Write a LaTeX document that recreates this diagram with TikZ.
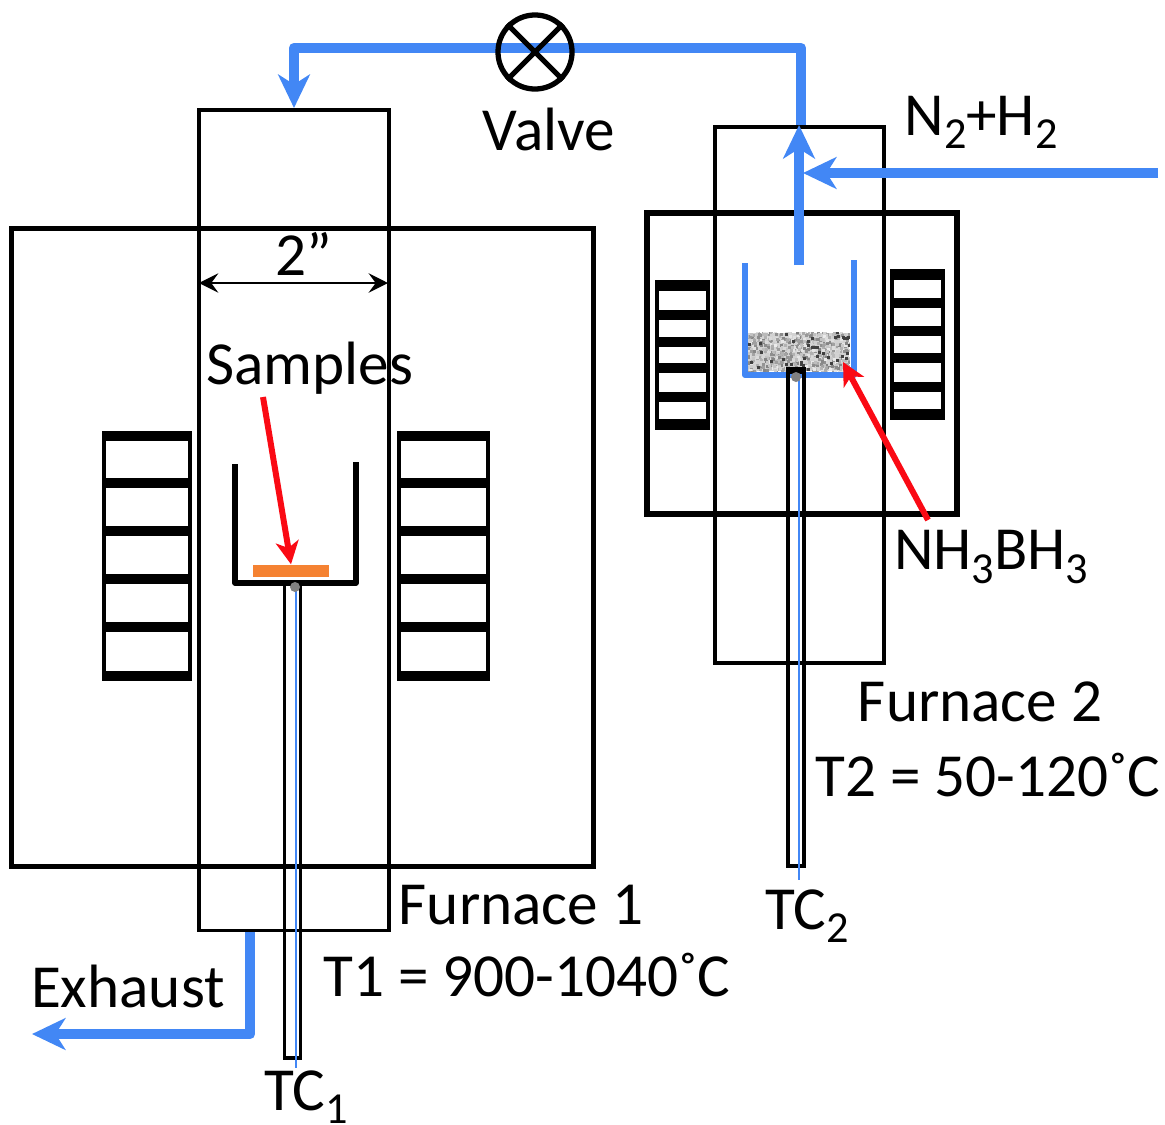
\documentclass[tikz,border=0pt]{standalone}
\usepackage{fontspec}
\setmainfont{Carlito}
\usepackage{xcolor}
\usetikzlibrary{arrows.meta,positioning}
\definecolor{azulgas}{RGB}{66,135,245}
\definecolor{naranja}{RGB}{245,130,50}
\definecolor{rojo}{RGB}{250,10,20}
\newcommand{\lowsub}[1]{\raisebox{-0.45ex}{\fontsize{12.6}{13}\selectfont #1}}

\begin{document}
\begin{tikzpicture}[
  x=0.01cm,y=-0.01cm,
  node distance=0.1cm and 0.1cm,
  wall/.style={draw,line width=1.5pt,inner sep=0pt},
  tube/.style={draw,line width=1pt,inner sep=0pt},
  heater/.style={draw,line width=1pt,inner sep=0pt},
  bar/.style={line width=2.6pt},
  gas/.style={azulgas,line width=3pt,line join=round},
  gastip/.style={gas,-{Stealth[length=9.5pt,width=9pt,inset=2.8pt]}},
  ptr/.style={rojo,line width=1.7pt,-{Stealth[length=6.5pt,width=6.5pt,inset=1.8pt]}},
  lbl/.style={font=\fontsize{17.4}{21}\selectfont,inner sep=0pt}
]
\useasboundingbox (0,0) rectangle (1165,1124);
% furnace 1
\node[tube,minimum width=1.9cm,minimum height=8.2cm] (tube1) at (294,520) {};
\node[wall,minimum width=5.81cm,minimum height=6.37cm] (furn1) at (302.5,547.5) {};
\node[heater,minimum width=0.86cm,minimum height=2.44cm] (hl1) at (147,556) {};
\node[heater,minimum width=0.89cm,minimum height=2.44cm] (hr1) at (443.5,556) {};
\foreach \y in {436,483,531,579,627,676} {
  \draw[bar] (hl1.west |- 0,\y) -- (hl1.east |- 0,\y);
  \draw[bar] (hr1.west |- 0,\y) -- (hr1.east |- 0,\y);
}
\draw[line width=1.5pt,line join=round] (235,464) -- (235,583) -- (356,583) -- (356,462);
\node[fill=naranja,inner sep=0pt,minimum width=0.76cm,minimum height=0.12cm] (sample1) at (291,571) {};
\node[tube,minimum width=0.16cm,minimum height=4.75cm] (tc1) at (292.5,820.5) {};
\coordinate (tc1top) at (296,590);
\coordinate (tc1end) at (296,1068);
\draw[azulgas,line width=0.5pt] (tc1top) -- (tc1end);
\node[fill=gray,circle,inner sep=0pt,minimum size=0.1cm] (dot1) at (295,587) {};

% furnace 2
\node[tube,minimum width=1.69cm,minimum height=5.36cm] (tube2) at (799.5,395) {};
\node[wall,minimum width=3.10cm,minimum height=3.01cm] (furn2) at (802,363.5) {};
\node[heater,minimum width=0.51cm,minimum height=1.46cm] (hl2) at (682.5,355) {};
\node[heater,minimum width=0.51cm,minimum height=1.47cm] (hr2) at (917.5,344.5) {};
\foreach \y in {286,315,342,368,397,424} \draw[bar] (hl2.west |- 0,\y) -- (hl2.east |- 0,\y);
\foreach \y in {275,303,331,358,387,414} \draw[bar] (hr2.west |- 0,\y) -- (hr2.east |- 0,\y);
\node[fill=gray!35,inner sep=0pt,minimum width=1.01cm,minimum height=0.38cm] (powder) at (798.5,352) {};
\pgfmathsetseed{11}
\begin{scope}
\clip (powder.south west) rectangle (powder.north east);
\foreach \i in {1,...,700} {
  \pgfmathsetmacro{\px}{746+103*rnd}
  \pgfmathsetmacro{\py}{331+40*rnd}
  \pgfmathsetmacro{\pg}{int(8+42*rnd)}
  \fill[black!\pg] (\px,\py) rectangle ++(3,3);
}
\foreach \i in {1,...,40} {
  \pgfmathsetmacro{\px}{746+103*rnd}
  \pgfmathsetmacro{\py}{331+40*rnd}
  \fill[black!75] (\px,\py) rectangle ++(3,3);
}
\end{scope}
\draw[gas,line width=1.7pt] (745,263) -- (745,375) -- (854,375) -- (854,260);
\node[tube,minimum width=0.16cm,minimum height=4.94cm] (tc2) at (796,619) {};
\draw[line width=1.8pt] (tc2.north west) -- (tc2.north east);
\coordinate (tc2top) at (799,380);
\coordinate (tc2end) at (799,880);
\draw[azulgas,line width=0.5pt] (tc2top) -- (tc2end);
\node[fill=gray,circle,inner sep=0pt,minimum size=0.1cm] (dot2) at (796,377) {};

% gas lines
\coordinate (boat2) at (799,265);
\coordinate (bend2) at (801,48);
\coordinate (bend1) at (294,48);
\coordinate (feed) at (1158,173);
\coordinate (feedin) at (803,173);
\coordinate (outlet) at (250,932);
\coordinate (bend3) at (250,1034);
\coordinate (vent) at (32,1034);
\draw[gastip] (boat2) -- (tube2.north -| boat2);
\draw[gastip] (tube2.north -| bend2) -- (bend2) -- (bend1) -- (tube1.north);
\draw[gastip] (feed) -- (feedin);
\draw[gastip] (outlet) -- (bend3) -- (vent);
\node[draw,circle,line width=1.5pt,inner sep=0pt,minimum size=0.74cm] (valve) at (535,52) {};
\draw[line width=1.5pt] (valve.45) -- (valve.225);
\draw[line width=1.5pt] (valve.135) -- (valve.315);

% pointers
\coordinate (samp1from) at (263,397);
\coordinate (samp2from) at (928,520);
\coordinate (samp2to) at (843,362);
\draw[ptr] (samp1from) -- (sample1.north);
\draw[ptr] (samp2from) -- (samp2to);
\draw[{Stealth[length=5.5pt,width=5.5pt,inset=2pt]}-{Stealth[length=5.5pt,width=5.5pt,inset=2pt]},line width=0.7pt,shorten <=0.5pt,shorten >=0.8pt] (tube1.west |- 0,283) -- (tube1.east |- 0,283);

% labels
\node[lbl] (lvalve) at (549,129) {Valve};
\node[lbl] (lgas) at (981,122) {N\lowsub{2}+H\lowsub{2}};
\node[lbl] (lwidth) at (304,254) {2”};
\node[lbl] (lsamples) at (310,368) {Samples};
\node[lbl] (lamine) at (991,557) {NH\lowsub{3}BH\lowsub{3}};
\node[lbl] (lfurn2) at (980,702) {Furnace 2};
\node[lbl] (lt2) at (988,775) {T2 = 50-120˚C};
\node[lbl] (ltc2) at (807,916) {TC\lowsub{2}};
\node[lbl] (lfurn1) at (521,905) {Furnace 1};
\node[lbl] (lt1) at (527,975) {T1 = 900-1040˚C};
\node[lbl] (lexhaust) at (128,986) {Exhaust};
\node[lbl] (ltc1) at (306,1097) {TC\lowsub{1}};
\end{tikzpicture}
\end{document}
